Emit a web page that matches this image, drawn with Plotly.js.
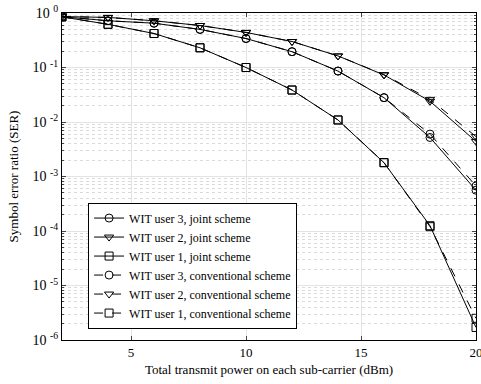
<!DOCTYPE html>
<html><head><meta charset="utf-8">
<script src="https://cdn.plot.ly/plotly-3.0.1.min.js"></script>
<style>html,body{margin:0;padding:0;background:#fff}#chart{width:481px;height:384px}</style>
</head><body><div id="chart"></div>
<script>
const power = [2, 4, 6, 8, 10, 12, 14, 16, 18, 20];
const jointUser3 = [0.855, 0.72, 0.65, 0.50, 0.34, 0.195, 0.086, 0.0279, 0.0052, 5.6e-4];
const jointUser2 = [0.86, 0.83, 0.72, 0.59, 0.44, 0.30, 0.163, 0.073, 0.024, 0.0044];
const jointUser1 = [0.85, 0.62, 0.42, 0.23, 0.10, 0.0386, 0.0109, 0.00179, 1.25e-4, 1.7e-6];
const convUser3 = [0.855, 0.72, 0.65, 0.50, 0.34, 0.195, 0.086, 0.028, 0.0060, 6.7e-4];
const convUser2 = [0.86, 0.83, 0.72, 0.59, 0.44, 0.30, 0.163, 0.074, 0.026, 0.0054];
const convUser1 = [0.85, 0.62, 0.42, 0.23, 0.10, 0.0386, 0.0109, 0.0018, 1.2e-4, 2.5e-6];
const seriesNames = ['WIT user 3, joint scheme','WIT user 2, joint scheme','WIT user 1, joint scheme',
  'WIT user 3, conventional scheme','WIT user 2, conventional scheme','WIT user 1, conventional scheme'];
const yTickVals = [1e-6, 1e-5, 1e-4, 1e-3, 1e-2, 1e-1, 1];
const yTickText = ['10 <sup>-6</sup>','10 <sup>-5</sup>','10 <sup>-4</sup>','10 <sup>-3</sup>','10 <sup>-2</sup>','10 <sup>-1</sup>','10 <sup>0</sup>'];
const xTickVals = [5, 10, 15, 20];

const minorVals = [];
for (let e = -6; e < 0; e++) for (let m = 2; m <= 9; m++) minorVals.push(m * Math.pow(10, e));

const ys = [jointUser3, jointUser2, jointUser1, convUser3, convUser2, convUser1];
const syms = ['circle-open','triangle-down-open','square-open','circle-open','triangle-down-open','square-open'];
const traces = ys.map((y, i) => ({
  x: power, y: y, name: seriesNames[i], type: 'scatter', mode: 'lines+markers',
  line: {color: '#000', width: 1, dash: i < 3 ? 'solid' : 'dash'},
  marker: {symbol: syms[i], size: 8, color: '#000', line: {width: 1, color: '#000'}}
}));

const FAM = 'Liberation Serif';
const f = (s) => ({family: FAM, size: s, color: '#000'});
const layout = {
  width: 481, height: 384,
  margin: {l: 62, r: 5, t: 13, b: 44},
  paper_bgcolor: '#fff', plot_bgcolor: '#fff',
  font: f(13),
  showlegend: true,
  legend: {x: 0.063, y: 0.035, xanchor: 'left', yanchor: 'bottom', bgcolor: '#fff',
    bordercolor: '#000', borderwidth: 1, font: f(12), tracegroupgap: 0, itemwidth: 30},
  xaxis: {range: [2, 20], tickmode: 'array', tickvals: xTickVals, ticks: 'inside', ticklen: 4,
    showline: true, linecolor: '#000', linewidth: 1, mirror: 'ticks', zeroline: false,
    ticklabeloverflow: 'allow',
    showgrid: true, gridcolor: '#e3e3e3', gridwidth: 1, tickfont: f(13),
    title: {text: 'Total transmit power on each sub-carrier (dBm)', font: f(13), standoff: 6}},
  yaxis: {type: 'log', range: [-6, 0], tickmode: 'array', tickvals: yTickVals, ticktext: yTickText,
    ticks: 'inside', ticklen: 4, showline: true, linecolor: '#000', linewidth: 1, mirror: 'ticks',
    showgrid: true, gridcolor: '#e3e3e3', gridwidth: 1, zeroline: false,
    tickfont: f(14),
    minor: {tickmode: 'array', tickvals: minorVals, ticks: 'inside', ticklen: 2, showgrid: true,
      gridcolor: '#dadada', griddash: 'dot', gridwidth: 1},
    title: {text: 'Symbol error ratio (SER)', font: f(13), standoff: 10}}
};
Plotly.newPlot('chart', traces, layout, {displayModeBar: false, staticPlot: true});
</script></body></html>
